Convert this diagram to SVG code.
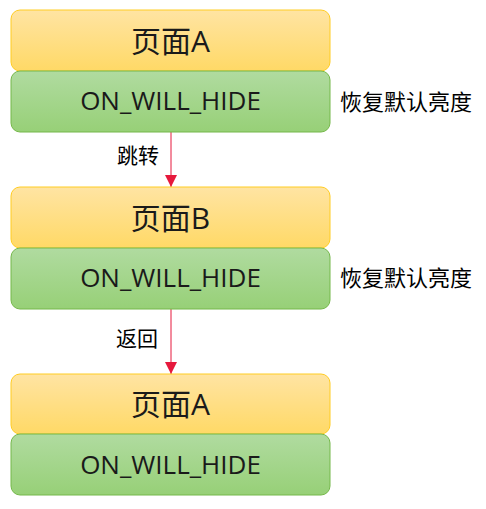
<svg xmlns="http://www.w3.org/2000/svg" width="486" height="509" viewBox="0 0 486 509">
<defs>
<linearGradient id="gy" x1="0" y1="0" x2="0" y2="1"><stop offset="0" stop-color="#ffe4a3"/><stop offset="1" stop-color="#ffd966"/></linearGradient>
<linearGradient id="gg" x1="0" y1="0" x2="0" y2="1"><stop offset="0" stop-color="#b0dba0"/><stop offset="1" stop-color="#97d077"/></linearGradient>
<marker id="ah" markerWidth="14" markerHeight="14" viewBox="0 0 14 14" refX="13" refY="7" orient="auto" markerUnits="userSpaceOnUse"><path d="M1,1 L13,7 L1,13 Z" fill="#e6193c"/></marker>
<style>
.y{fill:url(#gy);stroke:#ffcc22;stroke-width:1}
.g{fill:url(#gg);stroke:#75b84a;stroke-width:1}
.t1{font-family:"Open Sans","Noto Sans CJK SC",sans-serif;font-size:30px;fill:#1a1a1a;text-anchor:middle}
.t2{font-family:"Open Sans","Noto Sans CJK SC",sans-serif;font-size:26px;fill:#1a1a1a;text-anchor:middle}
.t3{font-family:"Noto Sans CJK SC",sans-serif;font-size:22px;fill:#000}
.t4{font-family:"Noto Sans CJK SC",sans-serif;font-size:21px;fill:#000}
.c{stroke:#e6193c;stroke-width:1;fill:none}
</style>
</defs>
<g id="connectors">
<path class="c" d="M171,132 V187" marker-end="url(#ah)"/>
<path class="c" d="M171,309 V374" marker-end="url(#ah)"/>
<text class="t4" x="117" y="163">跳转</text>
<text class="t4" x="116" y="346">返回</text>
</g>
<g id="pageA1"><rect class="y" x="11" y="10" width="319" height="61" rx="9"/><text class="t1" x="170.5" y="52">页面A</text></g>
<g id="hide1"><rect class="g" x="11" y="71" width="319" height="61" rx="9"/><text class="t2" x="170.5" y="110">ON_WILL_HIDE</text></g>
<g id="note1"><text class="t3" x="340" y="110">恢复默认亮度</text></g>
<g id="pageB"><rect class="y" x="11" y="187" width="319" height="61" rx="9"/><text class="t1" x="170.5" y="229">页面B</text></g>
<g id="hide2"><rect class="g" x="11" y="248" width="319" height="61" rx="9"/><text class="t2" x="170.5" y="287">ON_WILL_HIDE</text></g>
<g id="note2"><text class="t3" x="340" y="286">恢复默认亮度</text></g>
<g id="pageA2"><rect class="y" x="11" y="374" width="319" height="60" rx="9"/><text class="t1" x="170.5" y="415">页面A</text></g>
<g id="hide3"><rect class="g" x="11" y="434" width="319" height="61" rx="9"/><text class="t2" x="170.5" y="474">ON_WILL_HIDE</text></g>
</svg>
